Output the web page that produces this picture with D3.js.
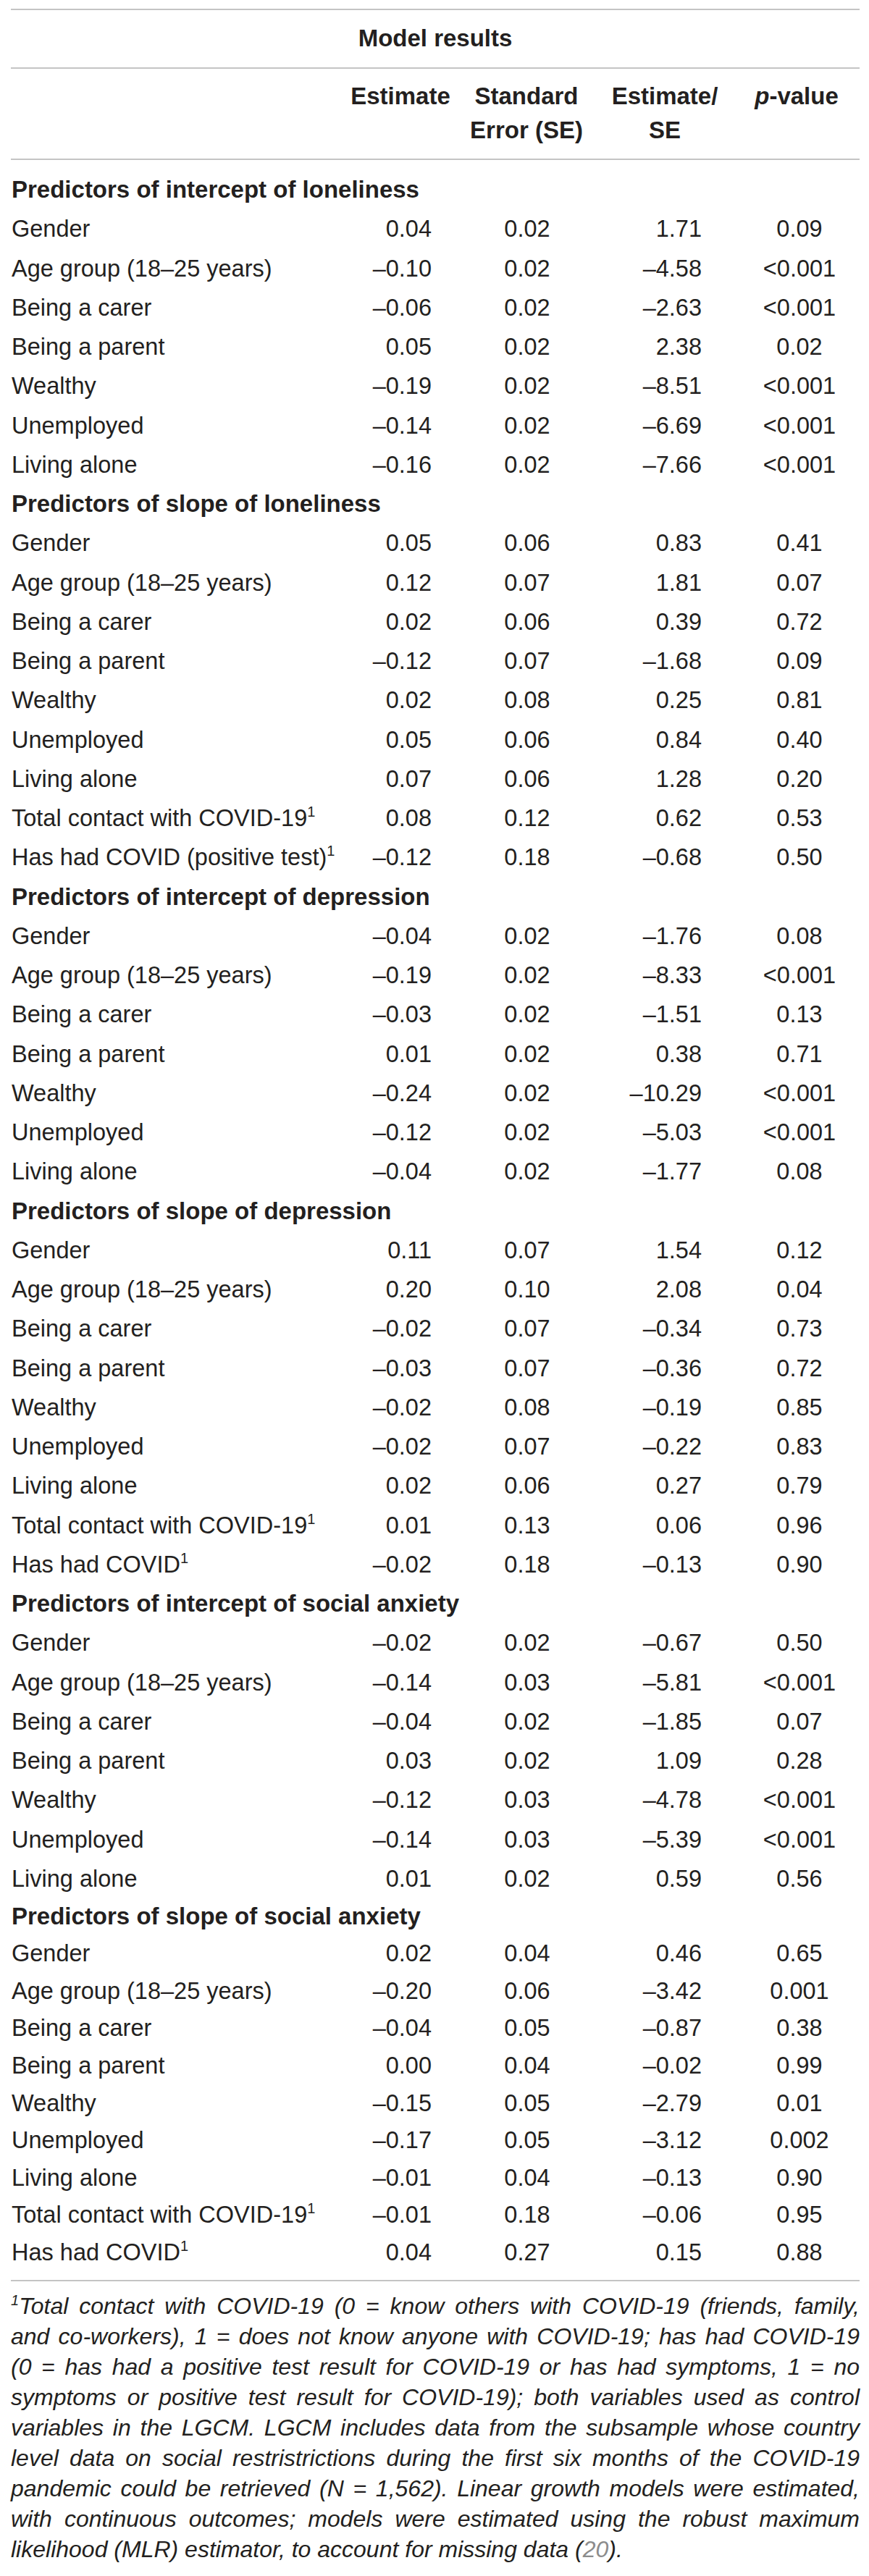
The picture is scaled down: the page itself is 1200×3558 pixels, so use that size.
<!DOCTYPE html>
<html lang="en">
    <head>
        <meta charset="utf-8">
        <title>Model results</title>
        <script type="text/javascript" src="https://d3js.org/d3.v7.min.js"></script>
        <style>
            body { margin: 0; background: #fff; }
            text { font-family: "Liberation Sans", Arial, Helvetica, sans-serif; fill: #231f20; }
        </style>
    </head>
    <body>
        <script type="text/javascript">

        //Data - one small array per thing in the table

        const title = "Model results";
        const sectionTitles = [
            "Predictors of intercept of loneliness",
            "Predictors of slope of loneliness",
            "Predictors of intercept of depression",
            "Predictors of slope of depression",
            "Predictors of intercept of social anxiety",
            "Predictors of slope of social anxiety"
        ];

        const baseLabels = ["Gender", "Age group (18–25 years)", "Being a carer", "Being a parent",
                            "Wealthy", "Unemployed", "Living alone"];
        const sectionLabels = [
            baseLabels,
            [...baseLabels, "Total contact with COVID-19", "Has had COVID (positive test)"],
            baseLabels,
            [...baseLabels, "Total contact with COVID-19", "Has had COVID"],
            baseLabels,
            [...baseLabels, "Total contact with COVID-19", "Has had COVID"]
        ];
        // labels that carry footnote 1
        const footnoted = ["Total contact with COVID-19", "Has had COVID (positive test)", "Has had COVID"];

        const estimates = [
            [0.04, -0.10, -0.06, 0.05, -0.19, -0.14, -0.16],
            [0.05, 0.12, 0.02, -0.12, 0.02, 0.05, 0.07, 0.08, -0.12],
            [-0.04, -0.19, -0.03, 0.01, -0.24, -0.12, -0.04],
            [0.11, 0.20, -0.02, -0.03, -0.02, -0.02, 0.02, 0.01, -0.02],
            [-0.02, -0.14, -0.04, 0.03, -0.12, -0.14, 0.01],
            [0.02, -0.20, -0.04, 0.00, -0.15, -0.17, -0.01, -0.01, 0.04]
        ];
        const stdErrors = [
            [0.02, 0.02, 0.02, 0.02, 0.02, 0.02, 0.02],
            [0.06, 0.07, 0.06, 0.07, 0.08, 0.06, 0.06, 0.12, 0.18],
            [0.02, 0.02, 0.02, 0.02, 0.02, 0.02, 0.02],
            [0.07, 0.10, 0.07, 0.07, 0.08, 0.07, 0.06, 0.13, 0.18],
            [0.02, 0.03, 0.02, 0.02, 0.03, 0.03, 0.02],
            [0.04, 0.06, 0.05, 0.04, 0.05, 0.05, 0.04, 0.18, 0.27]
        ];
        const estOverSe = [
            [1.71, -4.58, -2.63, 2.38, -8.51, -6.69, -7.66],
            [0.83, 1.81, 0.39, -1.68, 0.25, 0.84, 1.28, 0.62, -0.68],
            [-1.76, -8.33, -1.51, 0.38, -10.29, -5.03, -1.77],
            [1.54, 2.08, -0.34, -0.36, -0.19, -0.22, 0.27, 0.06, -0.13],
            [-0.67, -5.81, -1.85, 1.09, -4.78, -5.39, 0.59],
            [0.46, -3.42, -0.87, -0.02, -2.79, -3.12, -0.13, -0.06, 0.15]
        ];
        const pValues = [
            ["0.09", "<0.001", "<0.001", "0.02", "<0.001", "<0.001", "<0.001"],
            ["0.41", "0.07", "0.72", "0.09", "0.81", "0.40", "0.20", "0.53", "0.50"],
            ["0.08", "<0.001", "0.13", "0.71", "<0.001", "<0.001", "0.08"],
            ["0.12", "0.04", "0.73", "0.72", "0.85", "0.83", "0.79", "0.96", "0.90"],
            ["0.50", "<0.001", "0.07", "0.28", "<0.001", "<0.001", "0.56"],
            ["0.65", "0.001", "0.38", "0.99", "0.01", "0.002", "0.90", "0.95", "0.88"]
        ];

        const footnoteLines = [
            "Total contact with COVID-19 (0 = know others with COVID-19 (friends, family,",
            "and co-workers), 1 = does not know anyone with COVID-19; has had COVID-19",
            "(0 = has had a positive test result for COVID-19 or has had symptoms, 1 = no",
            "symptoms or positive test result for COVID-19); both variables used as control",
            "variables in the LGCM. LGCM includes data from the subsample whose country",
            "level data on social restristrictions during the first six months of the COVID-19",
            "pandemic could be retrieved (N = 1,562). Linear growth models were estimated,",
            "with continuous outcomes; models were estimated using the robust maximum",
            "likelihood (MLR) estimator, to account for missing data ("
        ];
        const footnoteRef = "20";


        //Layout consts

        const width = 1200;
        const height = 3558;
        const left = 15;
        const right = 1187;
        const fontSize = 32.5;
        const ink = "#231f20";
        const ruleColor = "#c4c4c4";

        //flatten the sections into one list of table rows
        const rows = [];
        sectionTitles.forEach((t, s) => {
            rows.push({type: "section", label: t});
            sectionLabels[s].forEach((lab, i) => {
                rows.push({
                    type: "row",
                    label: lab,
                    est: estimates[s][i],
                    se: stdErrors[s][i],
                    z: estOverSe[s][i],
                    p: pValues[s][i]
                });
            });
        });

        //Scales - row index to baseline, column key to anchor x
        const yScale = d3.scaleLinear()
                        .domain([0, 43, rows.length - 1])
                        .range([273, 2606, 3122]);

        const xScale = d3.scaleOrdinal()
                        .domain(["label", "est", "se", "z", "p"])
                        .range([16, 596, 728, 969, 1104]);

        const fmt = v => d3.format(".2f")(v).replace("−", "–").replace("-", "–");


        //SVG
        const svg = d3.select("body")
                    .append("svg")
                    .attr("width", width)
                    .attr("height", height);

        //rules
        svg.selectAll("line.rule")
            .data([13, 94, 220, 3150])
            .join("line")
            .attr("class", "rule")
            .attr("x1", left)
            .attr("x2", right)
            .attr("y1", d => d)
            .attr("y2", d => d)
            .attr("stroke", ruleColor)
            .attr("stroke-width", 2);

        //header
        svg.append("text")
            .text(title)
            .attr("x", 601)
            .attr("y", 64)
            .attr("text-anchor", "middle")
            .attr("font-weight", "bold")
            .attr("font-size", 33);

        const head = [
            {col: "est", lines: ["Estimate"]},
            {col: "se", lines: ["Standard", "Error (SE)"]},
            {col: "z", lines: ["Estimate/", "SE"]}
        ];
        const headX = {est: 553, se: 727, z: 918, p: 1100};

        head.forEach(h => {
            h.lines.forEach((l, i) => {
                svg.append("text")
                    .text(l)
                    .attr("x", headX[h.col])
                    .attr("y", 144 + i * 47)
                    .attr("text-anchor", "middle")
                    .attr("font-weight", "bold")
                    .attr("font-size", 33);
            });
        });

        const pHead = svg.append("text")
            .attr("x", headX.p)
            .attr("y", 144)
            .attr("text-anchor", "middle")
            .attr("font-weight", "bold")
            .attr("font-size", 33);
        pHead.append("tspan").attr("font-style", "italic").text("p");
        pHead.append("tspan").text("-value");


        //table body
        const g = svg.selectAll("g.row")
            .data(rows)
            .join("g")
            .attr("class", "row")
            .attr("transform", (d, i) => "translate(0," + yScale(i) + ")");

        const labels = g.append("text")
            .attr("x", xScale("label"))
            .attr("font-size", d => d.type === "section" ? 33 : fontSize)
            .attr("font-weight", d => d.type === "section" ? "bold" : "normal")
            .text(d => d.label);

        labels.filter(d => footnoted.includes(d.label))
            .append("tspan")
            .attr("font-size", 20)
            .attr("dy", -13)
            .text("1");

        const body = g.filter(d => d.type === "row");

        body.append("text")
            .attr("x", xScale("est"))
            .attr("text-anchor", "end")
            .attr("font-size", fontSize)
            .text(d => fmt(d.est));

        body.append("text")
            .attr("x", xScale("se"))
            .attr("text-anchor", "middle")
            .attr("font-size", fontSize)
            .text(d => fmt(d.se));

        body.append("text")
            .attr("x", xScale("z"))
            .attr("text-anchor", "end")
            .attr("font-size", fontSize)
            .text(d => fmt(d.z));

        body.append("text")
            .attr("x", xScale("p"))
            .attr("text-anchor", "middle")
            .attr("font-size", fontSize)
            .text(d => d.p);


        //footnote - italic, justified except the last line
        const notes = svg.selectAll("text.note")
            .data(footnoteLines)
            .join("text")
            .attr("class", "note")
            .attr("x", left)
            .attr("y", (d, i) => 3196 + i * 42)
            .attr("font-size", 32)
            .attr("font-style", "italic");

        notes.each(function(d, i) {
            const t = d3.select(this);
            if (i === 0) {
                t.append("tspan").attr("font-size", 20).attr("dy", -12).text("1");
                t.append("tspan").attr("dy", 12).text(d);
            } else if (i === footnoteLines.length - 1) {
                t.append("tspan").text(d);
                t.append("tspan").attr("fill", "#8c8c8c").text(footnoteRef);
                t.append("tspan").text(").");
            } else {
                t.append("tspan").text(d);
            }
        });

        notes.filter((d, i) => i < footnoteLines.length - 1)
            .each(function(d) {
                const len = this.getComputedTextLength();
                const gaps = d.split(" ").length - 1;
                d3.select(this).style("word-spacing", ((right - left - len) / gaps) + "px");
            });

        </script>
    </body>
</html>
